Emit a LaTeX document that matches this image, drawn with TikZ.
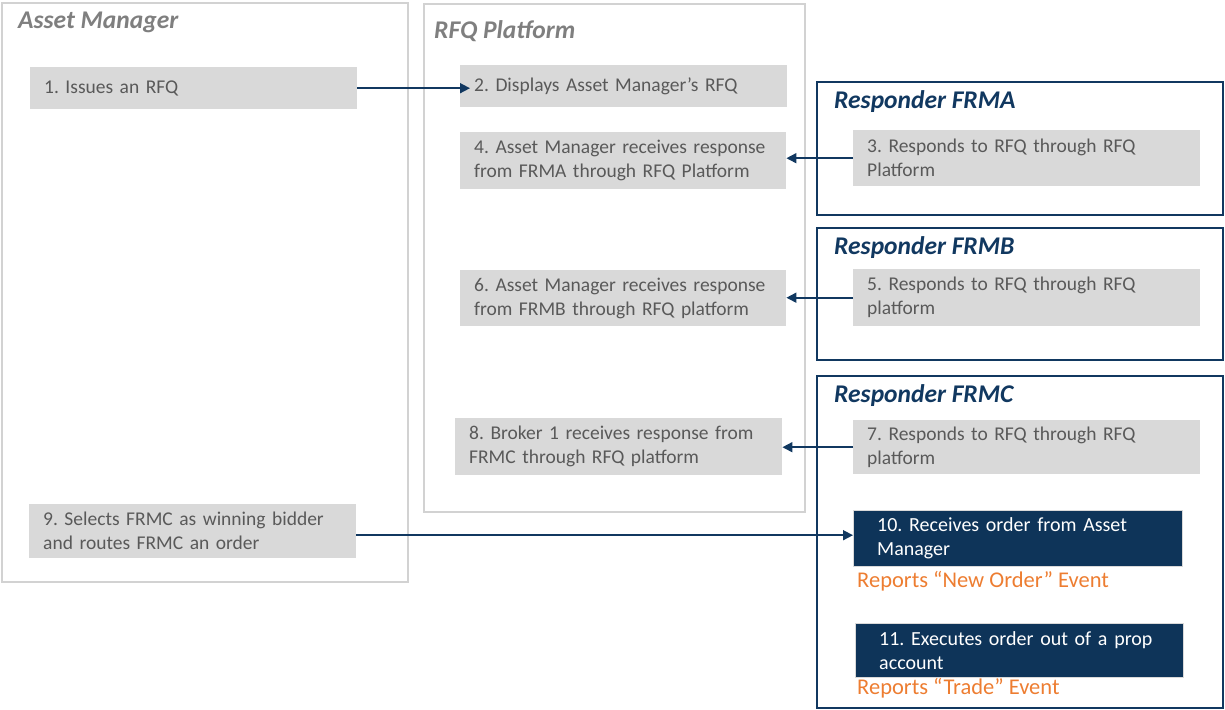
\documentclass[tikz,border=0pt]{standalone}
\usepackage{fontspec}
\setmainfont{Carlito}
\frenchspacing
\hyphenpenalty=10000
\usetikzlibrary{arrows.meta, positioning}
\definecolor{BoxG}{RGB}{217,217,217}
\definecolor{TxtG}{RGB}{89,89,89}
\definecolor{TitG}{RGB}{127,127,127}
\definecolor{FrmG}{RGB}{210,210,210}
\definecolor{NV}{RGB}{17,56,96}
\definecolor{NVF}{RGB}{14,52,89}
\definecolor{OR}{RGB}{237,125,49}
\tikzset{
  frameg/.style={draw=FrmG, line width=2pt},
  framen/.style={draw=NV, line width=2pt},
  titleg/.style={anchor=west, inner sep=0pt, text=TitG, font=\fontsize{25.5}{30}\selectfont\bfseries\itshape},
  titlen/.style={anchor=west, inner sep=0pt, text=NV, font=\fontsize{25.5}{30}\selectfont\bfseries\itshape},
  stepbox/.style={anchor=north west, fill=BoxG, text=TxtG, align=left,
    inner xsep=14pt, inner ysep=0pt, font=\fontsize{19.5}{24}\selectfont},
  darkbox/.style={anchor=north west, fill=NVF, draw=BoxG, text=white, align=left,
    inner xsep=24pt, inner ysep=0pt, font=\fontsize{20}{24}\selectfont},
  report/.style={anchor=west, inner sep=0pt, text=OR, font=\fontsize{22.5}{26}\selectfont},
  flow/.style={draw=NV, line width=1.6pt, -{Triangle[length=10pt,width=10pt]}}
}
\begin{document}
\begin{tikzpicture}[x=1pt, y=-1pt]
\useasboundingbox (0,0) rectangle (1225,709);
% Frames
\draw[frameg] (2,3) rectangle (408,582);
\draw[frameg] (424,4) rectangle (805,512);
\draw[framen] (817,82) rectangle (1223,215);
\draw[framen] (817,228) rectangle (1223,360);
\draw[framen] (817,376) rectangle (1223,708);

% Titles
\node[titleg] (tam) at (18,22) {Asset Manager};
\node[titleg] (trfq) at (434,31) {RFQ Platform};
\node[titlen] (tfa) at (834,102) {Responder FRMA};
\node[titlen] (tfb) at (834,248) {Responder FRMB};
\node[titlen] (tfc) at (834,396) {Responder FRMC};

% Steps
\node[stepbox, text width=299pt, minimum height=42pt] (b1) at (30,67) {1. Issues an RFQ};
\node[stepbox, text width=299pt, minimum height=42pt] (b2) at (460,65) {2. Displays Asset Manager’s RFQ};
\node[stepbox, text width=319pt, minimum height=56pt] (b3) at (853,130) {3. Responds to RFQ through RFQ\\Platform};
\node[stepbox, text width=298pt, minimum height=57pt] (b4) at (460,132) {4. Asset Manager receives response\\from FRMA through RFQ Platform};
\node[stepbox, text width=319pt, minimum height=57pt] (b5) at (853,269) {5. Responds to RFQ through RFQ\\platform};
\node[stepbox, text width=298pt, minimum height=56pt] (b6) at (460,270) {6. Asset Manager receives response\\from FRMB through RFQ platform};
\node[stepbox, text width=319pt, minimum height=54pt] (b7) at (853,420) {7. Responds to RFQ through RFQ\\platform};
\node[stepbox, text width=299pt, minimum height=57pt] (b8) at (455,418) {8. Broker 1 receives response from\\FRMC through RFQ platform};
\node[stepbox, text width=299pt, minimum height=54pt] (b9) at (29,504) {9. Selects FRMC as winning bidder\\and routes FRMC an order};
\node[darkbox, text width=281pt, minimum height=56pt] (b10) at (853,510) {10. Receives order from Asset\\Manager};
\node[darkbox, text width=280pt, minimum height=54pt] (b11) at (855,623) {11. Executes order out of a prop\\account};

% Reported events
\node[report] (r10) at (857,581) {Reports “New Order” Event};
\node[report] (r11) at (857,688) {Reports “Trade” Event};

% Arrows
\draw[flow] (b1.east) -- ([xshift=10pt]b2.west |- b1.east);
\draw[flow] (b3.west) -- (b3.west -| b4.east);
\draw[flow] (b5.west) -- (b5.west -| b6.east);
\draw[flow] (b7.west) -- (b7.west -| b8.east);
\draw[flow] ([yshift=-4pt]b9.east) -- ([yshift=-4pt]b9.east -| b10.west);
\end{tikzpicture}
\end{document}
